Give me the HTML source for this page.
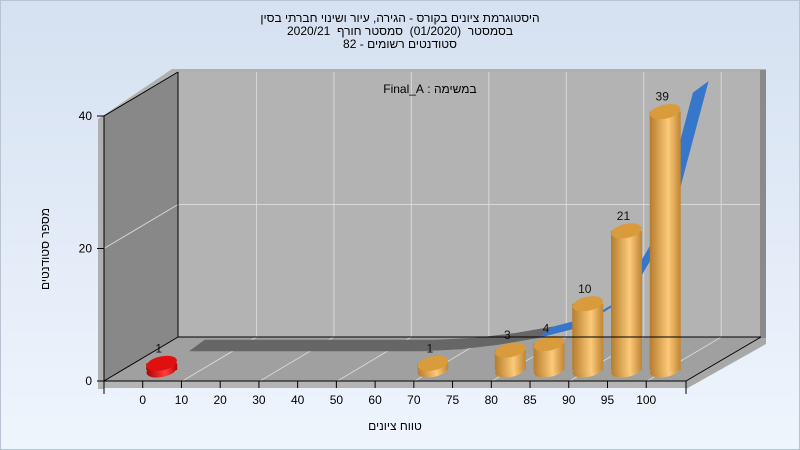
<!DOCTYPE html>
<html><head><meta charset="utf-8">
<style>
html,body{margin:0;padding:0;}
body{width:800px;height:450px;overflow:hidden;position:relative;background:linear-gradient(#d5e1f1,#eef5fd);font-family:"Liberation Sans",sans-serif;}
.t{position:absolute;font-size:12px;color:#000;white-space:nowrap;}
svg{position:absolute;left:0;top:0;}
</style></head><body>
<div style="position:absolute;left:0;top:0;width:798px;height:448px;border:1px solid #b8c4d4;"></div>
<svg id="chart" width="800" height="450">
<defs>
<linearGradient id="gold" x1="0" x2="1" y1="0" y2="0">
<stop offset="0" stop-color="#b57c2c"/><stop offset="0.6" stop-color="#fcca7a"/><stop offset="1" stop-color="#bf8532"/></linearGradient>
<linearGradient id="red" x1="0" x2="1" y1="0" y2="0">
<stop offset="0" stop-color="#b00000"/><stop offset="0.6" stop-color="#ff4040"/><stop offset="1" stop-color="#c00000"/></linearGradient>
</defs>
<g id="walls"></g><g id="ribbon"></g><g id="bars"></g><g id="axes"></g>
</svg>
<div class="t" dir="rtl" style="left:0;width:800px;top:11px;text-align:center;">היסטוגרמת ציונים בקורס - הגירה, עיור ושינוי חברתי בסין</div>
<div class="t" dir="rtl" style="left:0;width:800px;top:24px;text-align:center;">בסמסטר&nbsp; (01/2020)&nbsp; סמסטר חורף&nbsp; 2020/21</div>
<div class="t" dir="rtl" style="left:0;width:800px;top:37px;text-align:center;">סטודנטים רשומים - 82</div>
<div class="t" dir="rtl" style="left:330px;width:200px;top:82px;text-align:center;">במשימה : Final_A</div>
<div class="t" dir="rtl" style="left:295px;width:200px;top:419px;text-align:center;">טווח ציונים</div>
<div class="t" dir="rtl" style="left:-55px;width:200px;top:242px;text-align:center;transform:rotate(-90deg);">מספר סטודנטים</div>
<script>
const categories=["0","10","20","30","40","50","60","70","75","80","85","90","95","100"];
const barValues=[1,0,0,0,0,0,0,1,0,3,4,10,21,39];
const lineValues=[0,0,0,0,0,0,0,0.3,1,2,3.5,7,17,39];
const yTicks=[0,20,40];
const NS="http://www.w3.org/2000/svg";
function mk(parent,tag,attrs){const e=document.createElementNS(NS,tag);for(const k in attrs)e.setAttribute(k,attrs[k]);parent.appendChild(e);return e;}
const X0=104,Y0=381,STEP=38.73,SC=6.625,DX=74,DY=-44;
function xAt(i){return X0+STEP*(i+1);}
function yAt(v){return Y0-v*SC;}
const walls=document.getElementById('walls'),rib=document.getElementById('ribbon'),bars=document.getElementById('bars'),axes=document.getElementById('axes');
// frame rims
let e=mk(walls,'polygon',{points:"98,119 172,69 178,69 178,72 104,116 104,389 98,389",fill:"#b0b0b0"});

e=mk(walls,'polygon',{points:"98,381 686,381 686,388 98,388",fill:"#b4b4b4"});

e=mk(walls,'polygon',{points:"686,381 761,337 766,337 766,344 686,389",fill:"#a8a8a8"});

e=mk(walls,'rect',{x:178,y:69,width:588,height:4,fill:"#b0b0b0"});

e=mk(walls,'rect',{x:760,y:70,width:6,height:268,fill:"#8a8a8a"});

e=mk(walls,'polygon',{points:"104,116 178,72 178,337 104,381",fill:"#888"});

e=mk(walls,'rect',{x:178,y:72,width:582,height:265,fill:"#b3b3b3"});

e=mk(walls,'polygon',{points:"104,381 178,337 761,337 686,381",fill:"#a0a0a0"});

// gridlines
[1,3,5,7,9,11,13].forEach(i=>{const gx=xAt(i)+DX+1;
 let g=mk(walls,'line',{x1:gx,y1:72,x2:gx,y2:337,stroke:"#d8d8d8","stroke-width":1});
 
 g=mk(walls,'line',{x1:gx-DX,y1:381,x2:gx,y2:337,stroke:"#d8d8d8","stroke-width":1});
 });
yTicks.forEach(v=>{if(v===0||v===40)return;const y=yAt(v);
 let g=mk(walls,'line',{x1:X0,y1:y,x2:X0+DX,y2:y+DY,stroke:"#d8d8d8"});
 
 g=mk(walls,'line',{x1:X0+DX,y1:y+DY,x2:760,y2:y+DY,stroke:"#d8d8d8"});
 });
// ribbon
const LX=47,LY=-30,RDX=15,RDY=-11;
for(let i=0;i<lineValues.length-1;i++){
 const x1=xAt(i)+LX,y1=yAt(lineValues[i])+LY,x2=xAt(i+1)+LX,y2=yAt(lineValues[i+1])+LY;
 const col=i>=9?"#3677cc":"#666666";
 const p=mk(rib,'polygon',{points:`${x1},${y1} ${x2},${y2} ${x2+RDX},${y2+RDY} ${x1+RDX},${y1+RDY}`,fill:col,stroke:col,"stroke-width":0.5});
 
 
}
// bars
const BW=31,RY=7,BY=370;
barValues.forEach((v,i)=>{if(v<=0)return;
 const cx=xAt(i)+19,top=BY-v*SC,red=i===0;
 const g=mk(bars,'g',{});
 
 
 const rot=`rotate(-12 ${cx} `;
 mk(g,'ellipse',{cx:cx,cy:BY,rx:BW/2,ry:RY,fill:red?"url(#red)":"url(#gold)",transform:rot+BY+")"});
 mk(g,'rect',{x:cx-BW/2,y:top,width:BW,height:BY-top,fill:red?"url(#red)":"url(#gold)"});
 mk(g,'ellipse',{cx:cx,cy:top,rx:BW/2,ry:RY,fill:red?"#e01010":"#d99b3c",transform:rot+top+")"});
 const t=mk(bars,'text',{x:cx-3,y:top-11,"font-size":12,"text-anchor":"middle","font-family":"Liberation Sans, sans-serif",fill:"#111"});
 t.textContent=v;
 
 
});
// axes lines
[[104,116,104,381],[104,381,686,381],[104,116,178,72],[178,72,178,337],[104,381,178,337],[178,337,761,337],[686,381,761,337]].forEach(l=>{
 const a=mk(axes,'line',{x1:l[0],y1:l[1],x2:l[2],y2:l[3],stroke:"#000","stroke-width":1});
 
 });
yTicks.forEach(v=>{const y=yAt(v);
 const a=mk(axes,'line',{x1:97,y1:y,x2:104,y2:y,stroke:"#000"});
 
 
 const t=mk(axes,'text',{x:92,y:y+4,"font-size":12,"text-anchor":"end","font-family":"Liberation Sans, sans-serif"});
 t.textContent=v;
 
 });
const t0=mk(axes,'line',{x1:104,y1:381,x2:104,y2:394,stroke:"#000"});


categories.forEach((c,i)=>{const x=xAt(i);
 const a=mk(axes,'line',{x1:x,y1:381,x2:x,y2:388,stroke:"#000"});
 
 
 const t=mk(axes,'text',{x:x,y:404,"font-size":12,"text-anchor":"middle","font-family":"Liberation Sans, sans-serif"});
 t.textContent=c;
 
 });
const tE=mk(axes,'line',{x1:686,y1:381,x2:686,y2:394,stroke:"#000"});


</script>
</body></html>
